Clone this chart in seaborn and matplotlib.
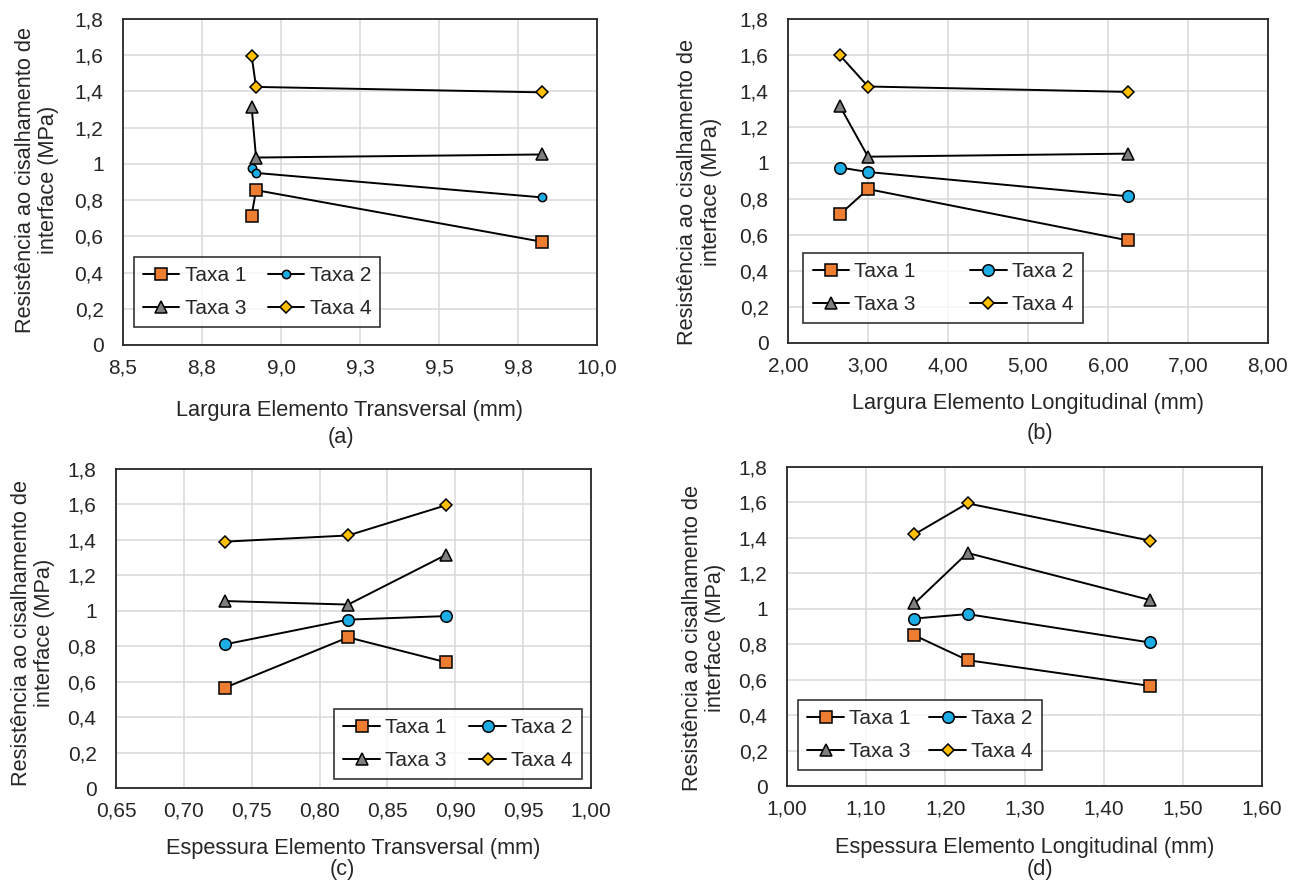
import matplotlib
matplotlib.use("Agg")
import matplotlib.pyplot as plt
import seaborn as sns
import pandas as pd

sns.set_theme(style="white")
plt.rcParams['font.family'] = ['Liberation Sans', 'DejaVu Sans']

series_names = ["Taxa 1", "Taxa 2", "Taxa 3", "Taxa 4"]

# (a) Largura Elemento Transversal
x_a = [8.907, 8.921, 9.826]
# (b) Largura Elemento Longitudinal
x_b = [2.65, 3.00, 6.25]
# values for (a)/(b) ordered by x
vals_ab = {
    "Taxa 1": [0.715, 0.855, 0.570],
    "Taxa 2": [0.975, 0.950, 0.815],
    "Taxa 3": [1.315, 1.035, 1.052],
    "Taxa 4": [1.598, 1.425, 1.395],
}
# (c) Espessura Elemento Transversal
x_c = [0.730, 0.821, 0.893]
vals_c = {
    "Taxa 1": [0.565, 0.850, 0.710],
    "Taxa 2": [0.810, 0.950, 0.970],
    "Taxa 3": [1.055, 1.035, 1.315],
    "Taxa 4": [1.390, 1.425, 1.595],
}
# (d) Espessura Elemento Longitudinal
x_d = [1.161, 1.228, 1.458]
vals_d = {
    "Taxa 1": [0.850, 0.710, 0.565],
    "Taxa 2": [0.945, 0.970, 0.810],
    "Taxa 3": [1.030, 1.315, 1.050],
    "Taxa 4": [1.420, 1.595, 1.385],
}

yticks = [0, 0.2, 0.4, 0.6, 0.8, 1.0, 1.2, 1.4, 1.6, 1.8]
ytick_labels = ["0", "0,2", "0,4", "0,6", "0,8", "1", "1,2", "1,4", "1,6", "1,8"]
xticks_a = [8.5, 8.75, 9.0, 9.25, 9.5, 9.75, 10.0]
xtick_labels_a = ["8,5", "8,8", "9,0", "9,3", "9,5", "9,8", "10,0"]
xticks_b = [2, 3, 4, 5, 6, 7, 8]
xtick_labels_b = ["2,00", "3,00", "4,00", "5,00", "6,00", "7,00", "8,00"]
xticks_c = [0.65, 0.70, 0.75, 0.80, 0.85, 0.90, 0.95, 1.00]
xtick_labels_c = ["0,65", "0,70", "0,75", "0,80", "0,85", "0,90", "0,95", "1,00"]
xticks_d = [1.0, 1.1, 1.2, 1.3, 1.4, 1.5, 1.6]
xtick_labels_d = ["1,00", "1,10", "1,20", "1,30", "1,40", "1,50", "1,60"]

xlabels = ["Largura Elemento Transversal (mm)", "Largura Elemento Longitudinal (mm)",
           "Espessura Elemento Transversal (mm)", "Espessura Elemento Longitudinal (mm)"]
captions = ["(a)", "(b)", "(c)", "(d)"]
ylabel = "Resistência ao cisalhamento de\ninterface (MPa)"

colors = {"Taxa 1": "#ED7D31", "Taxa 2": "#1CADE4", "Taxa 3": "#7F7F7F", "Taxa 4": "#FFC000"}
markers = {"Taxa 1": "s", "Taxa 2": "o", "Taxa 3": "^", "Taxa 4": "D"}

W, H = 1300, 883
fig = plt.figure(figsize=(13, 8.83), dpi=100)

def box(l, r, t, b):
    return [l / W, 1 - b / H, (r - l) / W, (b - t) / H]

big = {"Taxa 1": 8.7, "Taxa 2": 8.3, "Taxa 3": 8.3, "Taxa 4": 6.3}
panels = [
    dict(rect=box(123, 597, 19, 345), x=x_a, vals=vals_ab, xt=xticks_a, xtl=xtick_labels_a,
         xlim=(8.5, 10.0), msz={"Taxa 1": 8.2, "Taxa 2": 6.0, "Taxa 3": 8.7, "Taxa 4": 6.0},
         leg=(257, 292), cs=1.05, cap=(341, 437), ylp=11, yly=0.506, xlp=16, xlx=0.478),
    dict(rect=box(788, 1268, 19, 343), x=x_b, vals=vals_ab, xt=xticks_b, xtl=xtick_labels_b,
         xlim=(2, 8), msz=big, leg=(943, 288), cs=2.6, cap=(1040, 433), ylp=13, yly=0.466,
         xlp=12, xlx=0.5),
    dict(rect=box(116, 591, 469, 788), x=x_c, vals=vals_c, xt=xticks_c, xtl=xtick_labels_c,
         xlim=(0.65, 1.0), msz=big, leg=(458, 744), cs=1.1, cap=(342, 870), ylp=9, yly=0.486,
         xlp=12, xlx=0.5),
    dict(rect=box(787, 1262, 467, 786), x=x_d, vals=vals_d, xt=xticks_d, xtl=xtick_labels_d,
         xlim=(1.0, 1.6), msz=big, leg=(920, 735), cs=0.9, cap=(1040, 870), ylp=9, yly=0.464,
         xlp=13, xlx=0.5),
]

for i, p in enumerate(panels):
    ax = fig.add_axes(p["rect"])
    for name in series_names:
        df = pd.DataFrame({"x": p["x"], "y": p["vals"][name]})
        sns.lineplot(data=df, x="x", y="y", ax=ax, sort=False, estimator=None,
                     color="black", linewidth=1.4, marker=markers[name],
                     markersize=p["msz"][name], markerfacecolor=colors[name],
                     markeredgecolor="black", markeredgewidth=1.1, label=name, zorder=3)
    ax.set_xlim(*p["xlim"])
    ax.set_ylim(0, 1.8)
    ax.set_xticks(p["xt"])
    ax.set_xticklabels(p["xtl"])
    ax.set_yticks(yticks)
    ax.set_yticklabels(ytick_labels)
    ax.tick_params(axis="both", length=0, labelsize=15, colors="#262626")
    ax.tick_params(axis="y", pad=14)
    ax.tick_params(axis="x", pad=10)
    ax.grid(True, color="#D9D9D9", linewidth=1.1)
    ax.set_axisbelow(True)
    for s in ax.spines.values():
        s.set_visible(True)
        s.set_color("#262626")
        s.set_linewidth(1.3)
    ax.set_xlabel(xlabels[i], fontsize=15.7, labelpad=p["xlp"], color="#262626")
    ax.xaxis.label.set_x(p["xlx"])
    ax.set_ylabel(ylabel, fontsize=15.7, labelpad=p["ylp"], color="#262626", linespacing=1.15)
    ax.yaxis.label.set_y(p["yly"])
    h, lab = ax.get_legend_handles_labels()
    order = [0, 2, 1, 3]  # row-major: Taxa 1, Taxa 2 / Taxa 3, Taxa 4
    cx, cy = p["leg"]
    leg = ax.legend([h[k] for k in order], [lab[k] for k in order], ncol=2, fontsize=15,
                    frameon=True, fancybox=False, edgecolor="black", borderpad=0.45,
                    handlelength=1.75, handletextpad=0.25, columnspacing=p["cs"],
                    labelspacing=0.68, loc="center", bbox_to_anchor=(cx / W, 1 - cy / H),
                    bbox_transform=fig.transFigure)
    leg.get_frame().set_linewidth(1.2)
    for t in leg.get_texts():
        t.set_color("#262626")
    fig.text(p["cap"][0] / W, 1 - p["cap"][1] / H, captions[i], ha="center", va="center",
             fontsize=15.7, color="#262626")

fig.savefig("out.png", dpi=100, facecolor="white")
